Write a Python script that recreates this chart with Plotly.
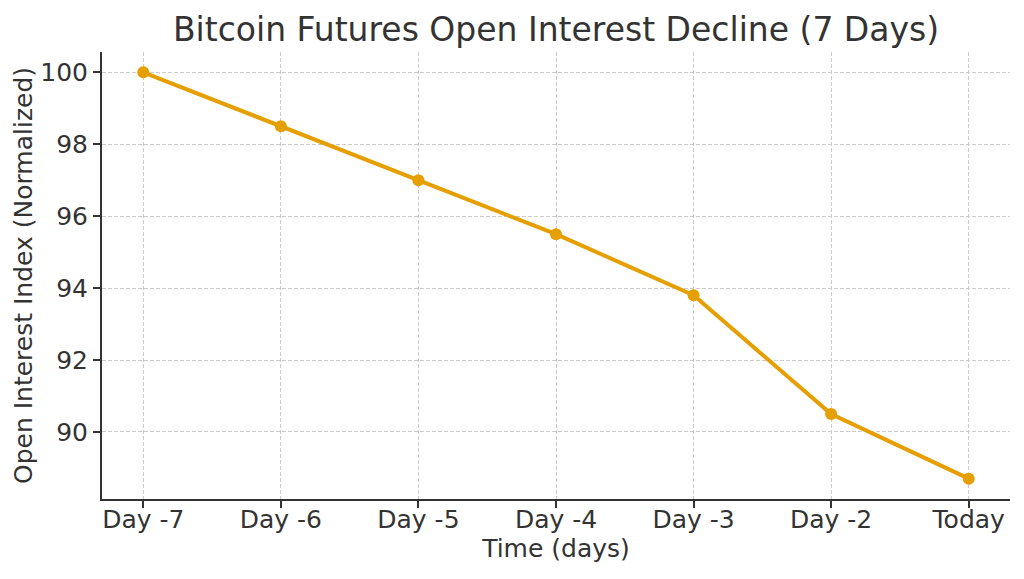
import plotly.graph_objects as go

categories = ["Day -7", "Day -6", "Day -5", "Day -4", "Day -3", "Day -2", "Today"]
open_interest = [100, 98.5, 97, 95.5, 93.8, 90.5, 88.7]
y_ticks = [90, 92, 94, 96, 98, 100]

FONT = "DejaVu Sans"
TXT = "#333333"

fig = go.Figure()
fig.add_trace(go.Scatter(
    x=list(range(len(categories))), y=open_interest,
    mode="lines+markers",
    line=dict(color="#E69F00", width=4),
    marker=dict(color="#E69F00", size=12),
    showlegend=False,
))

axis_common = dict(
    showgrid=True, gridcolor="#cccccc", griddash="4px,2px", gridwidth=1,
    showline=True, linecolor="#333333", linewidth=2,
    ticks="outside", ticklen=7, tickcolor="#333333", tickwidth=1.5,
    tickfont=dict(size=25, color=TXT),
    zeroline=False, mirror=False, automargin=False,
)

fig.update_layout(
    width=1024, height=579,
    margin=dict(l=102, r=14, t=52, b=80),
    paper_bgcolor="white", plot_bgcolor="white",
    font=dict(family=FONT, color=TXT, size=25),
    title=dict(text="Bitcoin Futures Open Interest Decline (7 Days)",
               xref="paper", x=0.5, xanchor="center", y=0.969, yanchor="top",
               font=dict(family=FONT, size=33, color=TXT)),
    xaxis=dict(
        range=[-0.3, 6.3],
        tickmode="array", tickvals=list(range(len(categories))), ticktext=categories,
        ticklabelstandoff=-10,
        title=dict(text="Time (days)", font=dict(size=25, color=TXT), standoff=4),
        **axis_common,
    ),
    yaxis=dict(
        range=[88.135, 100.565],
        tickmode="array", tickvals=y_ticks, ticktext=[str(v) for v in y_ticks],
        title=dict(text="Open Interest Index (Normalized)", font=dict(size=25, color=TXT), standoff=1),
        **axis_common,
    ),
)

fig.write_html("out.html", config={"displayModeBar": False},
               post_script="document.body.style.margin='0';document.body.style.padding='0';")
